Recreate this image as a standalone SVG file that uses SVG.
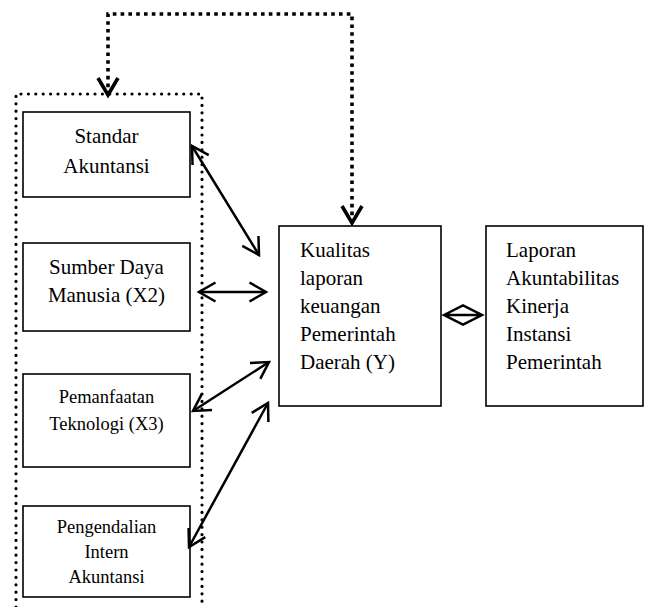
<svg xmlns="http://www.w3.org/2000/svg" width="646" height="607" viewBox="0 0 646 607">
<style>
  .box { fill: #fff; stroke: #000; stroke-width: 1.6; }
  .t { font-family: "Liberation Serif", "Times New Roman", serif; fill: #000; }
  .t21 { font-size: 21px; }
  .t18 { font-size: 18.5px; }
  .c { text-anchor: middle; }
  .conn { fill: none; stroke: #000; stroke-width: 2.5; }
  .dashconn { fill: none; stroke: #000; stroke-width: 3.6; stroke-dasharray: 3.6 4.2; }
  .dots { fill: none; stroke: #000; stroke-width: 3.2; stroke-linecap: round; stroke-dasharray: 0 7.4; }
</style>
<defs>
  <marker id="ah" markerUnits="userSpaceOnUse" viewBox="-20 -12 24 24" refX="0" refY="0" markerWidth="24" markerHeight="24" orient="auto-start-reverse" overflow="visible">
    <path d="M-16.5,-9.5 L0,0 L-16.5,9.5" fill="none" stroke="#000" stroke-width="2.5"/>
  </marker>
  <marker id="ahb" markerUnits="userSpaceOnUse" viewBox="-20 -12 24 24" refX="0" refY="0" markerWidth="24" markerHeight="24" orient="auto-start-reverse" overflow="visible">
    <path d="M-17,-10 L0,0 L-17,10" fill="none" stroke="#000" stroke-width="3.6"/>
  </marker>
</defs>

<g id="group-frame">
  <path class="dots" d="M16,607 V94 H202 V607"/>
</g>

<g id="node-standar">
  <rect class="box" x="23" y="112" width="167" height="85"/>
  <text class="t t21 c" x="106.5" y="143">Standar</text>
  <text class="t t21 c" x="106.5" y="173">Akuntansi</text>
</g>

<g id="node-sdm">
  <rect class="box" x="23" y="243" width="167" height="88"/>
  <text class="t t21 c" x="106.5" y="274">Sumber Daya</text>
  <text class="t t21 c" x="106.5" y="302">Manusia (X2)</text>
</g>

<g id="node-teknologi">
  <rect class="box" x="23" y="374" width="167" height="93"/>
  <text class="t t18 c" x="106.5" y="403">Pemanfaatan</text>
  <text class="t t18 c" x="106.5" y="430">Teknologi (X3)</text>
</g>

<g id="node-pengendalian">
  <rect class="box" x="23" y="506" width="167" height="91"/>
  <text class="t t18 c" x="106.5" y="533">Pengendalian</text>
  <text class="t t18 c" x="106.5" y="558">Intern</text>
  <text class="t t18 c" x="106.5" y="583">Akuntansi</text>
</g>

<g id="node-kualitas">
  <rect class="box" x="279" y="226" width="162" height="180"/>
  <text class="t t21" x="300" y="257">Kualitas</text>
  <text class="t t21" x="300" y="285">laporan</text>
  <text class="t t21" x="300" y="313">keuangan</text>
  <text class="t t21" x="300" y="341">Pemerintah</text>
  <text class="t t21" x="300" y="369">Daerah (Y)</text>
</g>

<g id="node-laporan">
  <rect class="box" x="486" y="226" width="157" height="180"/>
  <text class="t t21" x="506" y="257">Laporan</text>
  <text class="t t21" x="506" y="285">Akuntabilitas</text>
  <text class="t t21" x="506" y="313">Kinerja</text>
  <text class="t t21" x="506" y="341">Instansi</text>
  <text class="t t21" x="506" y="369">Pemerintah</text>
</g>

<g id="connectors">
  <path class="dashconn" d="M108,95 V14 H352 V223" marker-start="url(#ahb)" marker-end="url(#ahb)"/>
  <path class="conn" d="M192,146 L259,255" marker-start="url(#ah)" marker-end="url(#ah)"/>
  <path class="conn" d="M199,292 H266" marker-start="url(#ah)" marker-end="url(#ah)"/>
  <path class="conn" d="M193,411 L269,362" marker-start="url(#ah)" marker-end="url(#ah)"/>
  <path class="conn" d="M189,547 L268,403" marker-start="url(#ah)" marker-end="url(#ah)"/>
  <path class="conn" d="M444,315 L463,305.5 L482,315 L463,324.5 Z M444,315 H482"/>
</g>
</svg>
